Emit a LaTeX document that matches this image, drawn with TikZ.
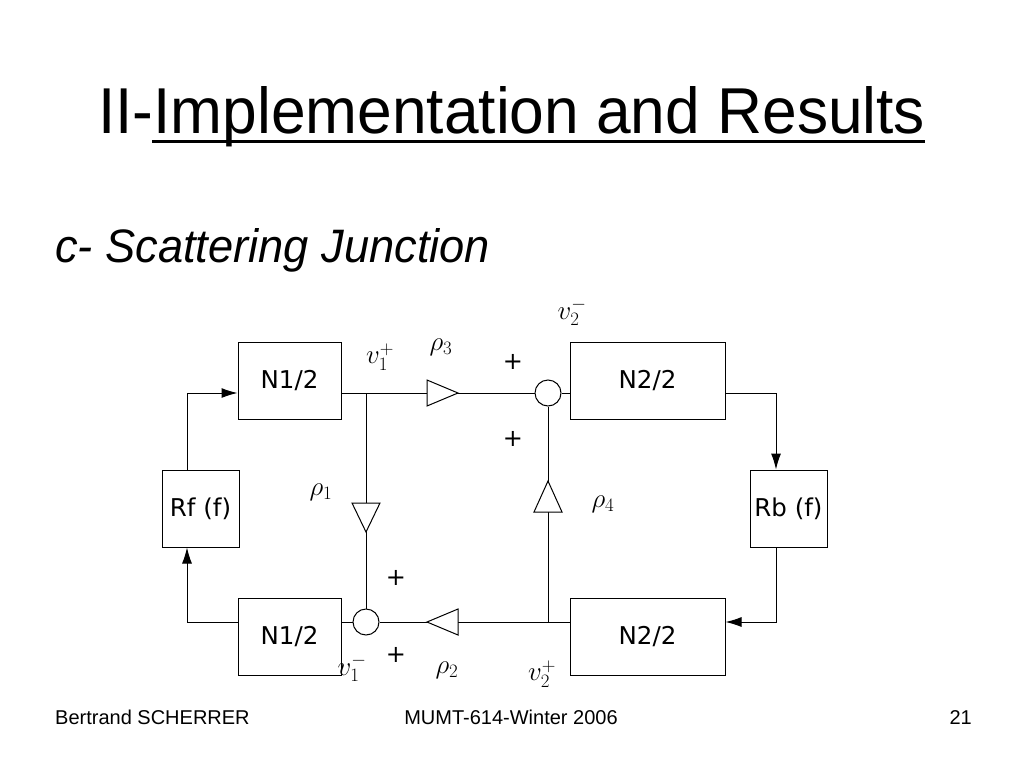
\RequirePackage{fix-cm}
\documentclass[tikz,border=0pt]{standalone}
\usepackage{fontspec}
\setmainfont{Liberation Sans}
\newfontfamily\boxfont{DejaVu Sans}
\usetikzlibrary{arrows.meta}
\begin{document}
\begin{tikzpicture}[x=1pt,y=-1pt,
  blk/.style={draw, line width=1pt, minimum height=77pt, inner sep=0pt, font=\boxfont\fontsize{24.5}{28}\selectfont},
  wire/.style={line width=1pt},
  arr/.style={wire, -{Latex[length=16pt,width=10pt]}},
  sumj/.style={draw, circle, line width=1pt, minimum size=26pt, inner sep=0pt},
  amp/.style={draw, fill=white, line width=1pt, line join=miter},
  lbl/.style={font=\fontsize{27}{30}\selectfont, inner sep=0pt},
  pl/.style={font=\boxfont\fontsize{24}{28}\selectfont, inner sep=0pt},
  foot/.style={font=\fontsize{20}{24}\selectfont, inner sep=0pt}]
\fill[white] (0,0) rectangle (1024,768);
\useasboundingbox (0,0) rectangle (1024,768);

% title and subtitle
\node[anchor=base west, inner sep=0pt] (title) at (98,133)
  {\resizebox{827pt}{47pt}{\fontsize{64}{70}\selectfont II-Implementation and Results}};
\draw[line width=3pt] (152,141) -- (925,141);
\node[anchor=base west, inner sep=0pt] (sub) at (55,262)
  {\resizebox{435pt}{34pt}{\fontsize{45.5}{50}\selectfont\itshape c- Scattering Junction}};

% blocks
\node[blk, minimum width=103pt] (n1t) at (289.5,380.5) {N1/2};
\node[blk, minimum width=155pt] (n2t) at (647.5,380.5) {N2/2};
\node[blk, minimum width=103pt] (n1b) at (289.5,636.5) {N1/2};
\node[blk, minimum width=155pt] (n2b) at (647.5,636.5) {N2/2};
\node[blk, minimum width=77pt] (rf) at (200.5,508.5) {Rf (f)};
\node[blk, minimum width=77pt] (rb) at (788.5,508.5) {Rb (f)};

% summing junctions
\node[sumj] (ct) at (548,393) {};
\node[sumj] (cb) at (366,622) {};
\coordinate (jt) at (366,393);
\coordinate (jb) at (548,622);
\coordinate (rfx) at (187,0);
\coordinate (rbx) at (776,0);

% wires
\draw[wire] (n1t.east |- jt) -- (ct.west);
\draw[wire] (ct.east) -- (n2t.west |- ct);
\draw[wire] (jt) -- (cb.north);
\draw[wire] (n2b.west |- jb) -- (cb.east);
\draw[wire] (cb.west) -- (n1b.east |- cb);
\draw[wire] (jb) -- (ct.south);

% feedback arrows
\draw[arr] (rf.north -| rfx) |- (n1t.west |- jt);
\draw[arr] (n1b.west |- cb) -| (rf.south -| rfx);
\draw[arr] (n2t.east |- ct) -| (rb.north -| rbx);
\draw[arr] (rb.south -| rbx) |- (n2b.east |- jb);

% gain triangles
\draw[amp] (427,380) -- (458,393) -- (427,406) -- cycle;
\draw[amp] (352,503) -- (380,503) -- (366,532) -- cycle;
\draw[amp] (534,512) -- (562,512) -- (548,481) -- cycle;
\draw[amp] (427,622) -- (458,609) -- (458,635) -- cycle;

% labels
\node[lbl] (lv1p) at (380,357) {$v_1^+$};
\node[lbl] (lr3) at (441,347) {$\rho_3$};
\node[pl] (pa) at (513,362) {+};
\node[lbl] (lv2m) at (572,312) {$v_2^-$};
\node[pl] (pb) at (513,439) {+};
\node[lbl] (lr1) at (321,492) {$\rho_1$};
\node[lbl] (lr4) at (603,504) {$\rho_4$};
\node[pl] (pc) at (396,578) {+};
\node[pl] (pd) at (396,655) {+};
\node[lbl] (lv1m) at (352,668) {$v_1^-$};
\node[lbl] (lr2) at (447,670) {$\rho_2$};
\node[lbl] (lv2p) at (542,674) {$v_2^+$};

% footer
\node[foot, anchor=base west] (f1) at (55,724) {Bertrand SCHERRER};
\node[foot, anchor=base] (f2) at (511,724) {MUMT-614-Winter 2006};
\node[foot, anchor=base east] (f3) at (972,724) {21};
\end{tikzpicture}
\end{document}
